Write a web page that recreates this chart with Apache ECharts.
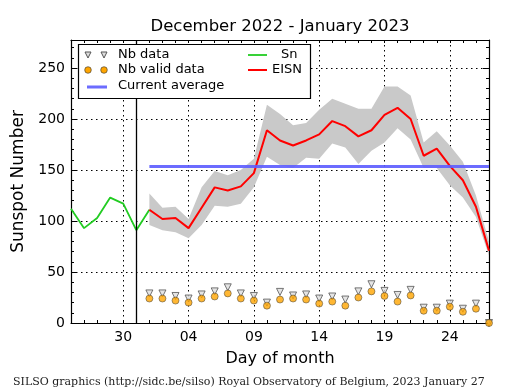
<!DOCTYPE html>
<html>
<head>
<meta charset="utf-8">
<script src="https://cdn.jsdelivr.net/npm/echarts@6/dist/echarts.min.js"></script>
<style>
html,body{margin:0;padding:0;background:#fff;}
#chart{width:515px;height:390px;}
</style>
</head>
<body>
<div id="chart"></div>
<script>
// Days from Dec 26, 2022 to Jan 27, 2023
var days = ['26','27','28','29','30','31','01','02','03','04','05','06','07','08','09','10','11','12','13','14','15','16','17','18','19','20','21','22','23','24','25','26','27'];
var majorDays = ['30','04','09','14','19','24'];
// Sn (daily sunspot number) Dec 26 .. Jan 1
var sn = [112, 93, 103, 123, 117, 91, 111];
// EISN Jan 1 .. Jan 27
var eisn = [111, 102, 103, 93, 113, 133, 130, 134, 147, 189, 179, 174, 179, 185, 198, 193, 183, 189, 204, 211, 200, 164, 171, 154, 140, 114, 71];
var eisnUpper = [127, 113, 114, 102, 133, 149, 145, 150, 161, 214, 205, 194, 196, 209, 220, 215, 210, 210, 232, 232, 223, 177, 188, 174, 158, 125, 80];
var eisnLower = [96, 91, 89, 83, 96, 115, 114, 117, 133, 163, 155, 152, 162, 161, 176, 172, 156, 169, 177, 191, 180, 152, 152, 135, 123, 104, 66];
var nbData = [29, 29, 26.5, 24, 28, 31, 35, 29, 26.5, 20, 30.5, 27, 28, 24, 26, 23, 31, 38, 31.5, 27.5, 32.5, 15, 15, 19, 14, 19, 0];
var nbValid = [24, 24, 22, 20, 24, 26, 29, 24, 22, 17, 23, 24, 23, 19, 21, 17, 25, 31, 26.5, 21, 27, 12, 12, 16, 11, 14, 0];
var currentAverage = 153.5;
var startIdx = 6; // Jan 1
var markDay = '31';

function pad(arr, offset) {
  var out = [];
  for (var i = 0; i < days.length; i++) {
    var j = i - offset;
    out.push(j >= 0 && j < arr.length ? arr[j] : null);
  }
  return out;
}
var snFull = pad(sn, 0);
var eisnFull = pad(eisn, startIdx);
var lowerFull = pad(eisnLower, startIdx);
var diffFull = pad(eisnUpper.map(function (u, i) { return u - eisnLower[i]; }), startIdx);
var nbDataFull = pad(nbData, startIdx);
var nbValidFull = pad(nbValid, startIdx);

function isMajor(idx) { return majorDays.indexOf(days[idx]) >= 0 && idx >= 4 && (idx - 4) % 5 === 0; }

var FONT = 'DejaVu Sans';
var chart = echarts.init(document.getElementById('chart'), null, {renderer: 'canvas'});

var baseX = {
  type: 'category', data: days, boundaryGap: false,
  axisLine: {show: true, onZero: false, lineStyle: {color: '#000', width: 1.2}},
  axisLabel: {show: false}, splitLine: {show: false}
};
var baseY = {
  type: 'value', min: 0, max: 277.5, interval: 50,
  axisLine: {show: true, onZero: false, lineStyle: {color: '#000', width: 1.2}},
  axisTick: {show: true, inside: true, length: 6, lineStyle: {color: '#000'}},
  minorTick: {show: true, splitNumber: 5, length: 3, lineStyle: {color: '#000'}},
  splitLine: {show: false}
};

var option = {
  animation: false,
  backgroundColor: '#fff',
  grid: {left: 71, right: 26, top: 40, bottom: 67, containLabel: false, outerBoundsMode: 'none'},
  xAxis: [
    Object.assign({}, baseX, {
      position: 'bottom',
      axisTick: {show: true, inside: true, length: 3, interval: 0, lineStyle: {color: '#000'}},
      axisLabel: {show: true, interval: function (i) { return isMajor(i); }, color: '#000', fontFamily: FONT, fontSize: 14, margin: 7},
      splitLine: {show: true, interval: function (i) { return isMajor(i); }, lineStyle: {color: '#000', width: 1, type: [1.5, 3.5]}},
      name: 'Day of month', nameLocation: 'middle', nameGap: 28,
      nameTextStyle: {color: '#000', fontFamily: FONT, fontSize: 16}
    }),
    Object.assign({}, baseX, {
      position: 'top',
      axisTick: {show: true, inside: true, length: 3, interval: 0, lineStyle: {color: '#000'}}
    })
  ],
  yAxis: [
    Object.assign({}, baseY, {
      position: 'left',
      axisLabel: {show: true, color: '#000', fontFamily: FONT, fontSize: 14, margin: 6, showMaxLabel: false,
        formatter: function (v) { return v % 50 === 0 ? String(v) : ''; }},
      splitLine: {show: true, lineStyle: {color: '#000', width: 1, type: [1.5, 3.5]}},
      name: 'Sunspot Number', nameLocation: 'middle', nameGap: 37, nameRotate: 90,
      nameTextStyle: {color: '#000', fontFamily: FONT, fontSize: 17}
    }),
    Object.assign({}, baseY, {
      position: 'right',
      axisLabel: {show: false}
    })
  ],
  series: [
    {
      name: 'bandBase', type: 'line', data: lowerFull, stack: 'band', symbol: 'none',
      lineStyle: {opacity: 0}, silent: true, z: 1
    },
    {
      name: 'band', type: 'line', data: diffFull, stack: 'band', symbol: 'none',
      lineStyle: {opacity: 0}, areaStyle: {color: '#c9c9c9', opacity: 1}, silent: true, z: 1
    },
    {
      name: 'Sn', type: 'line', data: snFull, symbol: 'none',
      lineStyle: {color: '#22cc22', width: 1.8}, z: 3,
      markLine: {
        silent: true, symbol: 'none', label: {show: false},
        lineStyle: {color: '#000', width: 1.3, type: 'solid'},
        data: [{xAxis: markDay}]
      }
    },
    {
      name: 'EISN', type: 'line', data: eisnFull, symbol: 'none',
      lineStyle: {color: '#ff0000', width: 2}, z: 4,
      markLine: {
        silent: true, symbol: 'none', label: {show: false},
        lineStyle: {color: '#5c5cff', width: 3, type: 'solid', opacity: 0.9},
        data: [[{xAxis: days[startIdx], yAxis: currentAverage}, {xAxis: days[days.length - 1], yAxis: currentAverage}]]
      }
    },
    {
      name: 'Nb data', type: 'scatter', data: nbDataFull, symbol: 'triangle', symbolRotate: 180, symbolSize: 7,
      itemStyle: {color: '#dddddd', borderColor: '#555', borderWidth: 1}, z: 5
    },
    {
      name: 'Nb valid data', type: 'scatter', data: nbValidFull, symbol: 'circle', symbolSize: 7,
      itemStyle: {color: '#ffa500', borderColor: '#333', borderWidth: 0.6}, z: 6
    }
  ],
  graphic: [
    {type: 'text', x: 280, y: 27, style: {text: 'December 2022 - January 2023', font: '16.5px "DejaVu Sans"', fill: '#000', textAlign: 'center', textVerticalAlign: 'middle'}},
    {type: 'text', x: 13, y: 382, style: {text: 'SILSO graphics (http://sidc.be/silso) Royal Observatory of Belgium, 2023 January 27', font: '11px "DejaVu Serif"', fill: '#222', textVerticalAlign: 'middle'}},
    {type: 'rect', shape: {x: 78.5, y: 44.5, width: 232, height: 54}, style: {fill: '#fff', stroke: '#000', lineWidth: 1.2}, z: 100},
    {type: 'polygon', shape: {points: [[85, 52], [91, 52], [88, 58]]}, style: {fill: '#dddddd', stroke: '#555', lineWidth: 1}, z: 101},
    {type: 'polygon', shape: {points: [[101, 52], [107, 52], [104, 58]]}, style: {fill: '#dddddd', stroke: '#555', lineWidth: 1}, z: 101},
    {type: 'text', x: 118, y: 55, style: {text: 'Nb data', font: '13px "DejaVu Sans"', fill: '#000', textVerticalAlign: 'middle'}, z: 101},
    {type: 'circle', shape: {cx: 88, cy: 70, r: 3.3}, style: {fill: '#ffa500', stroke: '#333', lineWidth: 0.6}, z: 101},
    {type: 'circle', shape: {cx: 104, cy: 70, r: 3.3}, style: {fill: '#ffa500', stroke: '#333', lineWidth: 0.6}, z: 101},
    {type: 'text', x: 118, y: 70, style: {text: 'Nb valid data', font: '13px "DejaVu Sans"', fill: '#000', textVerticalAlign: 'middle'}, z: 101},
    {type: 'line', shape: {x1: 87, y1: 87, x2: 107, y2: 87}, style: {stroke: '#5c5cff', lineWidth: 3, opacity: 0.9}, z: 101},
    {type: 'text', x: 118, y: 86, style: {text: 'Current average', font: '13px "DejaVu Sans"', fill: '#000', textVerticalAlign: 'middle'}, z: 101},
    {type: 'line', shape: {x1: 248, y1: 55, x2: 267, y2: 55}, style: {stroke: '#22cc22', lineWidth: 1.8}, z: 101},
    {type: 'text', x: 281, y: 55, style: {text: 'Sn', font: '13px "DejaVu Sans"', fill: '#000', textVerticalAlign: 'middle'}, z: 101},
    {type: 'line', shape: {x1: 248, y1: 70, x2: 267, y2: 70}, style: {stroke: '#ff0000', lineWidth: 2}, z: 101},
    {type: 'text', x: 272, y: 70, style: {text: 'EISN', font: '13px "DejaVu Sans"', fill: '#000', textVerticalAlign: 'middle'}, z: 101}
  ]
};
chart.setOption(option);
</script>
</body>
</html>
